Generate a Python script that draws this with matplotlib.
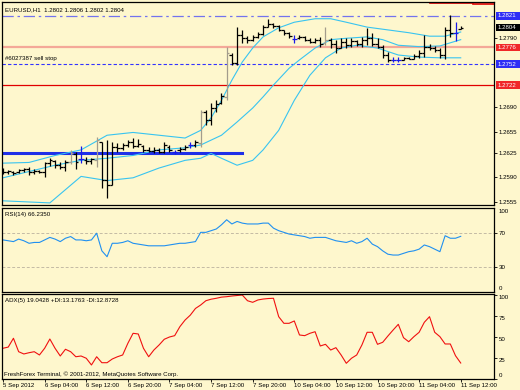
import matplotlib.pyplot as plt
from matplotlib.patches import Rectangle
from matplotlib.transforms import blended_transform_factory

plt.rcParams['font.family'] = ['Liberation Sans', 'DejaVu Sans']

BG = '#FEF7CD'
FS = 4.4

# EURUSD H1 bars, 5 Sep 20:00 .. 11 Sep 12:00 (one per hour)
bar_open = [1.2599, 1.2597, 1.2597, 1.2597, 1.2600, 1.2601, 1.2597, 1.2599, 1.2597, 1.2610,
            1.2613, 1.2607, 1.2604, 1.2611, 1.2623, 1.2616, 1.2614, 1.2613, 1.2614, 1.2640,
            1.2586, 1.2578, 1.2633, 1.2632, 1.2636, 1.2640, 1.2634, 1.2634, 1.2629, 1.2627,
            1.2629, 1.2626, 1.2633, 1.2626, 1.2629, 1.2630, 1.2636, 1.2636, 1.2639, 1.2683,
            1.2672, 1.2689, 1.2696, 1.2705, 1.2765, 1.2754, 1.2794, 1.2789, 1.2787, 1.2791,
            1.2795, 1.2805, 1.2810, 1.2807, 1.2801, 1.2797, 1.2788, 1.2789, 1.2791, 1.2787,
            1.2784, 1.2787, 1.2782, 1.2787, 1.2781, 1.2775, 1.2784, 1.2779, 1.2785, 1.2781,
            1.2787, 1.2789, 1.2781, 1.2777, 1.2765, 1.2758, 1.2758, 1.2758, 1.2761, 1.2760,
            1.2764, 1.2768, 1.2777, 1.2775, 1.2772, 1.2765, 1.2801, 1.2797, 1.2802]
bar_high = [1.2603, 1.2600, 1.2599, 1.2601, 1.2603, 1.2604, 1.2601, 1.2600, 1.2611, 1.2617,
            1.2614, 1.2611, 1.2614, 1.2629, 1.2626, 1.2634, 1.2619, 1.2617, 1.2647, 1.2640,
            1.2643, 1.2640, 1.2639, 1.2639, 1.2643, 1.2646, 1.2644, 1.2636, 1.2633, 1.2633,
            1.2632, 1.2640, 1.2636, 1.2629, 1.2633, 1.2636, 1.2640, 1.2643, 1.2686, 1.2686,
            1.2696, 1.2700, 1.2710, 1.2777, 1.2768, 1.2805, 1.2801, 1.2792, 1.2794, 1.2798,
            1.2808, 1.2817, 1.2811, 1.2808, 1.2801, 1.2798, 1.2794, 1.2794, 1.2792, 1.2789,
            1.2789, 1.2791, 1.2805, 1.2789, 1.2787, 1.2789, 1.2789, 1.2789, 1.2787, 1.2791,
            1.2804, 1.2797, 1.2789, 1.2779, 1.2769, 1.2762, 1.2762, 1.2762, 1.2762, 1.2766,
            1.2772, 1.2794, 1.2781, 1.2778, 1.2775, 1.2805, 1.2822, 1.2812, 1.2806]
bar_low = [1.2594, 1.2594, 1.2593, 1.2596, 1.2597, 1.2593, 1.2594, 1.2596, 1.2590, 1.2606,
           1.2603, 1.2601, 1.2599, 1.2609, 1.2601, 1.2610, 1.2609, 1.2609, 1.2604, 1.2574,
           1.2560, 1.2578, 1.2626, 1.2629, 1.2633, 1.2632, 1.2633, 1.2626, 1.2626, 1.2624,
           1.2624, 1.2624, 1.2626, 1.2623, 1.2626, 1.2629, 1.2632, 1.2633, 1.2633, 1.2665,
           1.2665, 1.2683, 1.2695, 1.2700, 1.2751, 1.2751, 1.2782, 1.2782, 1.2785, 1.2789,
           1.2794, 1.2805, 1.2804, 1.2799, 1.2794, 1.2789, 1.2782, 1.2788, 1.2785, 1.2782,
           1.2782, 1.2777, 1.2779, 1.2775, 1.2768, 1.2775, 1.2775, 1.2777, 1.2778, 1.2777,
           1.2779, 1.2778, 1.2775, 1.2761, 1.2755, 1.2755, 1.2755, 1.2758, 1.2759, 1.2759,
           1.2761, 1.2762, 1.2772, 1.2769, 1.2761, 1.2759, 1.2791, 1.2785, 1.2802]
bar_close = [1.2597, 1.2599, 1.2596, 1.2600, 1.2601, 1.2597, 1.2599, 1.2597, 1.2610, 1.2614,
             1.2607, 1.2604, 1.2611, 1.2624, 1.2611, 1.2616, 1.2613, 1.2616, 1.2643, 1.2586,
             1.2578, 1.2633, 1.2632, 1.2636, 1.2640, 1.2634, 1.2637, 1.2629, 1.2627, 1.2629,
             1.2626, 1.2636, 1.2629, 1.2626, 1.2630, 1.2633, 1.2636, 1.2640, 1.2683, 1.2672,
             1.2689, 1.2695, 1.2706, 1.2768, 1.2754, 1.2794, 1.2789, 1.2787, 1.2791, 1.2795,
             1.2805, 1.2810, 1.2807, 1.2801, 1.2797, 1.2792, 1.2788, 1.2791, 1.2787, 1.2784,
             1.2787, 1.2781, 1.2787, 1.2781, 1.2775, 1.2784, 1.2779, 1.2785, 1.2781, 1.2787,
             1.2789, 1.2781, 1.2777, 1.2765, 1.2758, 1.2758, 1.2758, 1.2761, 1.2760, 1.2764,
             1.2768, 1.2777, 1.2775, 1.2772, 1.2765, 1.2801, 1.2797, 1.2797, 1.2804]
gray_bars = [13, 18, 38, 43, 62]

# Bollinger-type bands, read at a few bars
upper_x = [0, 5, 10, 15, 20, 25, 30, 35, 38, 40, 42, 44, 46, 48, 50, 53, 56, 60, 63, 66, 70, 74, 78, 82, 85, 88]
upper_y = [1.2610, 1.2611, 1.2621, 1.2629, 1.2650, 1.2654, 1.2650, 1.2646, 1.2657, 1.2675, 1.2700, 1.2729, 1.2755,
           1.2775, 1.2791, 1.2804, 1.2812, 1.2817, 1.2817, 1.2812, 1.2805, 1.2801, 1.2797, 1.2792, 1.2792, 1.2798]
mid_x = [0, 10, 15, 20, 25, 30, 35, 38, 40, 42, 45, 48, 50, 52, 55, 57, 60, 63, 66, 70, 73, 76, 80, 84, 88]
mid_y = [1.2589, 1.2607, 1.2614, 1.2617, 1.2621, 1.2629, 1.2632, 1.2636, 1.2643, 1.2650, 1.2669, 1.2689, 1.2705,
         1.2722, 1.2746, 1.2758, 1.2775, 1.2787, 1.2789, 1.2791, 1.2787, 1.2779, 1.2777, 1.2778, 1.2787]
lower_x = [0, 9, 15, 20, 25, 30, 35, 38, 40, 42, 45, 48, 50, 53, 56, 59, 62, 65, 68, 72, 76, 80, 84, 88]
lower_y = [1.2556, 1.2553, 1.2591, 1.2585, 1.2589, 1.2603, 1.2614, 1.2617, 1.2624, 1.2617, 1.2607, 1.2614, 1.2629,
           1.2657, 1.2700, 1.2736, 1.2761, 1.2775, 1.2779, 1.2775, 1.2765, 1.2762, 1.2761, 1.2761]

rsi = [62, 61, 60, 63, 61, 58, 59, 59, 62, 65, 63, 60, 64, 66, 62, 62, 61, 62, 70, 49,
       42, 58, 58, 59, 61, 58, 57, 56, 55, 55, 55, 55, 56, 57, 58, 58, 59, 60, 71, 71,
       73, 75, 80, 86, 81, 84, 82, 81, 81, 81, 82, 82, 76, 73, 71, 69, 68, 67, 66, 64,
       65, 65, 65, 63, 61, 60, 59, 61, 58, 60, 64, 57, 54, 49, 45, 44, 44, 46, 48, 49,
       51, 56, 54, 51, 48, 67, 64, 64, 66.235]
adx = [36.6, 38, 48.5, 32.5, 29.8, 31.3, 32.5, 28.6, 36.6, 47.6, 36.6, 27.4, 35.4, 32.5, 26.5, 27.4, 24.7, 16.7,
       26.5, 19.4, 19.4, 23.8, 26.5, 28.6, 42.5, 54.4, 53.6, 36.6, 26.5, 34.5, 40.5, 47.3, 50, 51.6, 62.3, 70.2,
       76, 84, 88.1, 93.2, 95, 96.1, 97.5, 98, 98.8, 99.4, 100, 93.2, 91.3, 94.1, 95.2, 95.8, 96.1, 74.2, 66.3,
       66.3, 69.1, 52.4, 51.6, 54.4, 56.3, 39.3, 41.3, 34.5, 37.3, 28.6, 18.7, 24.7, 28.6, 40.5, 55.6, 55.6, 41.3,
       43.7, 51.2, 58.3, 65.1, 49.2, 44.4, 50.4, 55.6, 67.5, 74.2, 55.6, 50.4, 41.7, 41.7, 27.7, 19.04]

price_ticks = [1.2790, 1.2690, 1.2655, 1.2625, 1.2590, 1.2555]
time_ticks = [0, 8, 16, 24, 32, 40, 48, 56, 64, 72, 80, 88]
time_labels = ['5 Sep 2012', '6 Sep 04:00', '6 Sep 12:00', '6 Sep 20:00', '7 Sep 04:00', '7 Sep 12:00',
               '7 Sep 20:00', '10 Sep 04:00', '10 Sep 12:00', '10 Sep 20:00', '11 Sep 04:00', '11 Sep 12:00']

idx = list(range(len(bar_open)))


def bar_color(i):
    if bar_open[i] == bar_close[i]:
        return '#1818E8'
    if i in gray_bars:
        return '#A39C8C'
    return 'black'


cols = [bar_color(i) for i in idx]

W, H = 520, 390
fig = plt.figure(figsize=(W / 100, H / 100), dpi=100, facecolor=BG)


def place(top, bottom):
    return [2 / W, 1 - bottom / H, 492 / W, (bottom - top) / H]


axP = fig.add_axes(place(2, 205))
axR = fig.add_axes(place(208, 292))
axA = fig.add_axes(place(294, 379))
for ax in (axP, axR, axA):
    ax.set_facecolor(BG)
    ax.set_xlim(-0.2, 94.4)
    for s in ax.spines.values():
        s.set_color('black')
        s.set_linewidth(0.9)
    ax.yaxis.tick_right()
    ax.tick_params(axis='y', length=2, width=0.6, pad=1.5, labelsize=FS)
    ax.set_xticks([])

# price window
axP.set_ylim(1.2550, 1.2841)
axP.axhline(1.2821, color='#7373EE', lw=0.9, ls=(0, (9, 3, 2, 3)))
axP.axhline(1.2776, color='#F4A898', lw=1.6)
axP.axhline(1.2752, color='#3333FF', lw=0.8, ls=(0, (3, 2)))
axP.axhline(1.2722, color='#E00000', lw=0.9)
axP.plot([82, 90.4], [1.2840, 1.2840], color='#E00000', lw=1.2)
axP.plot([90.4, 94.4], [1.2838, 1.2838], color='#E00000', lw=1.2)
axP.plot([-1, 46], [1.2624, 1.2624], color='#1F2FE8', lw=2.2)
for bx, by in ((upper_x, upper_y), (mid_x, mid_y), (lower_x, lower_y)):
    axP.plot(bx, by, color='#38C4F0', lw=0.8)
axP.vlines(idx, bar_low, bar_high, colors=cols, lw=0.9)
axP.hlines(bar_open, [i - 0.5 for i in idx], idx, colors=cols, lw=0.9)
axP.hlines(bar_close, idx, [i + 0.5 for i in idx], colors=cols, lw=0.9)
axP.set_yticks(price_ticks)
axP.set_yticklabels([f'{v:.4f}' for v in price_ticks])

trP = blended_transform_factory(axP.transAxes, axP.transData)
for val, fc in [(1.2821, '#2E2EF5'), (1.2804, 'black'), (1.2776, '#F02828'),
                (1.2752, '#2E2EF5'), (1.2722, '#F02828')]:
    axP.add_patch(Rectangle((1.004, val - 0.00052), 0.049, 0.00104, transform=trP,
                            fc=fc, ec='none', clip_on=False))
    axP.text(1.008, val, f'{val:.4f}', transform=trP, ha='left', va='center',
             color='white', fontsize=FS, clip_on=False)

axP.text(0.006, 0.975, 'EURUSD,H1  1.2802 1.2806 1.2802 1.2804', transform=axP.transAxes,
         ha='left', va='top', fontsize=FS)
axP.text(0.006, 1.2757, '#6027387 sell stop', transform=trP, ha='left', va='bottom', fontsize=FS)

# RSI window
axR.set_ylim(0, 100)
axR.axhline(70, color='#C4BBA4', lw=0.7, ls=(0, (3, 2)))
axR.axhline(30, color='#C4BBA4', lw=0.7, ls=(0, (3, 2)))
axR.plot(idx, rsi, color='#2090F0', lw=0.8)
axR.set_yticks([70, 30])
axR.set_yticklabels(['70', '30'])
trR = blended_transform_factory(axR.transAxes, axR.transData)
axR.text(1.009, 99, '100', transform=trR, ha='left', va='top', fontsize=FS, clip_on=False)
axR.text(1.009, 1, '0', transform=trR, ha='left', va='bottom', fontsize=FS, clip_on=False)
axR.text(0.006, 0.95, 'RSI(14) 66.2350', transform=axR.transAxes, ha='left', va='top', fontsize=FS)

# ADX window
axA.set_ylim(0, 101.2)
axA.plot(idx, adx, color='#F01010', lw=0.8)
axA.set_yticks([100, 75, 50, 25, 0])
axA.set_yticklabels([])
trA = blended_transform_factory(axA.transAxes, axA.transData)
for v in (100, 75, 50, 25):
    axA.text(1.009, v, str(v), transform=trA, ha='left', va='top', fontsize=FS, clip_on=False)
axA.text(1.009, 1, '0', transform=trA, ha='left', va='bottom', fontsize=FS, clip_on=False)
axA.text(0.006, 0.95, 'ADX(5) 19.0428 +DI:13.1763 -DI:12.8728', transform=axA.transAxes,
         ha='left', va='top', fontsize=FS)
axA.text(0.004, 0.02, 'FreshForex Terminal, \u00a9 2001-2012, MetaQuotes Software Corp.',
         transform=axA.transAxes, ha='left', va='bottom', fontsize=FS)
axA.set_xticks(time_ticks)
axA.set_xticklabels(time_labels, ha='left')
axA.tick_params(axis='x', length=2, width=0.6, pad=1.2, labelsize=FS)

fig.savefig('out.png', dpi=100, facecolor=BG)
